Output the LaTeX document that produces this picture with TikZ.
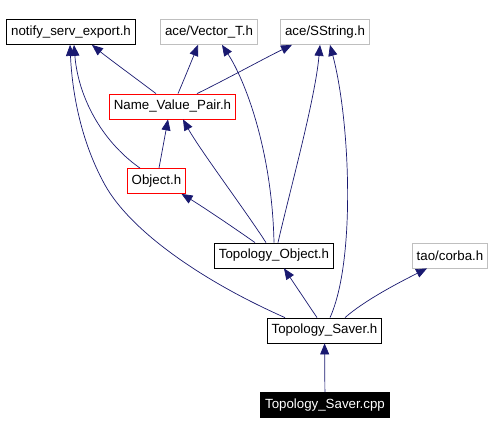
\documentclass[tikz,border=0pt]{standalone}
\usepackage{fontspec}
\setmainfont{Liberation Sans}
\usetikzlibrary{arrows.meta}
\definecolor{edgeblue}{RGB}{25,25,112}
\definecolor{boxgray}{RGB}{191,191,191}

\begin{document}
\begin{tikzpicture}[x=1pt, y=-1pt,
		box/.style={draw, line width=0.8pt, rectangle, minimum height=25pt, inner xsep=4.5pt, inner ysep=0pt, font=\fontsize{13.3}{15}\selectfont},
		edge/.style={draw=edgeblue, line width=0.7pt, -{Triangle[length=11pt, width=9pt]}, fill=none}]
			\useasboundingbox (0, 0) rectangle (494, 435);
			\draw (71, 32) 		node[box, draw=black] 		(notify) 	{notify\_serv\_export.h};
			\draw (209, 32) 	node[box, draw=boxgray] 	(vector) 	{ace/Vector\_T.h};
			\draw (325, 32) 	node[box, draw=boxgray] 	(sstring) 	{ace/SString.h};
			\draw (172.5, 106.5) 	node[box, draw=red] 	(nvp) 		{Name\_Value\_Pair.h};
			\draw (156.5, 181) 	node[box, draw=red] 		(object) 	{Object.h};
			\draw (274, 255.5) 	node[box, draw=black] 		(topo) 		{Topology\_Object.h};
			\draw (450, 255.5) 	node[box, draw=boxgray] 	(corba) 	{tao/corba.h};
			\draw (324.5, 330.5) 	node[box, draw=black] 	(saver) 	{Topology\_Saver.h};
			\draw (325, 405) 	node[box, draw=black, fill=black, text=white] 	(cpp) 	{Topology\_Saver.cpp};

			\draw[edge] ([xshift=-16.5pt]nvp.north) .. controls (138, 80) and (108, 58) .. ([xshift=21pt]notify.south);
			\draw[edge] ([xshift=5.5pt]nvp.north) .. controls (183, 82) and (192, 60) .. ([xshift=-11pt]vector.south);
			\draw[edge] ([xshift=24.5pt]nvp.north) .. controls (225, 80) and (265, 58) .. ([xshift=-33pt]sstring.south);
			\draw[edge] ([xshift=2.5pt]object.north) -- ([xshift=-4.5pt]nvp.south);
			\draw[edge] ([xshift=-16.5pt]object.north) .. controls (100, 140) and (78, 95) .. ([xshift=3pt]notify.south);
			\draw[edge] ([xshift=-8pt]topo.north) .. controls (245, 210) and (200, 150) .. ([xshift=10.5pt]nvp.south);
			\draw[edge] ([xshift=-19pt]topo.north) .. controls (230, 225) and (200, 205) .. ([xshift=25pt]object.south);
			\draw[edge] (topo.north) .. controls (272, 150) and (245, 80) .. ([xshift=13pt]vector.south);
			\draw[edge] ([xshift=4pt]topo.north) .. controls (290, 190) and (315, 100) .. ([xshift=-5pt]sstring.south);
			\draw[edge] ([xshift=-39.5pt]saver.north) .. controls (200, 280) and (130, 230) .. (105, 185) .. controls (80, 140) and (72, 90) .. ([xshift=-1pt]notify.south);
			\draw[edge] ([xshift=-7.5pt]saver.north) -- ([xshift=10pt]topo.south);
			\draw[edge] ([xshift=5.5pt]saver.north) .. controls (356, 260) and (350, 120) .. ([xshift=5pt]sstring.south);
			\draw[edge] ([xshift=20.5pt]saver.north) .. controls (365, 300) and (400, 282) .. ([xshift=-23pt]corba.south);
			\draw[edge] (cpp) -- (saver);
		\end{tikzpicture}
\end{document}
